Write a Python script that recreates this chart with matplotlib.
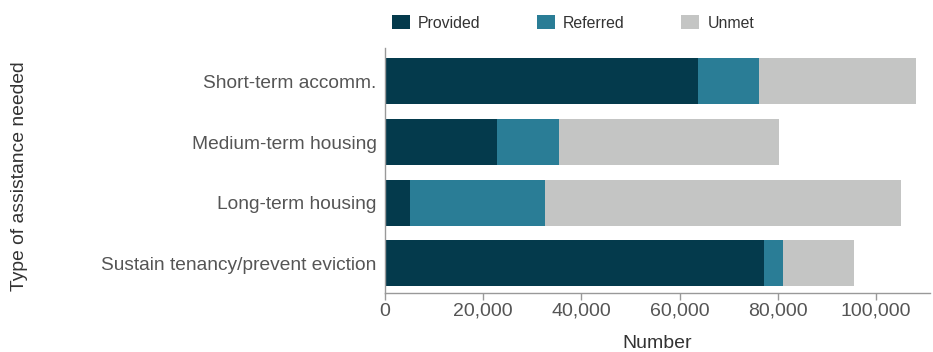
import matplotlib.pyplot as plt
from matplotlib.patches import Patch
from matplotlib.ticker import FuncFormatter

plt.rcParams['font.family'] = ['Liberation Sans', 'DejaVu Sans']

categories = ['Short-term accomm.', 'Medium-term housing', 'Long-term housing',
              'Sustain tenancy/prevent eviction']
provided = [63700, 22900, 5100, 77300]
referred = [12400, 12500, 27500, 3700]
unmet = [32000, 44800, 72600, 14500]

series = ['Provided', 'Referred', 'Unmet']
colours = ['#043a4c', '#2a7d96', '#c4c5c4']
text_col = '#555555'

fig = plt.figure(figsize=(9.33, 3.52), dpi=100)
ax = fig.add_axes([0.4127, 0.1676, 0.584, 0.696])

ypos = list(range(len(categories)))
left = [0] * len(categories)
for vals, col in zip([provided, referred, unmet], colours):
    ax.barh(ypos, vals, left=left, height=0.76, color=col)
    left = [a + b for a, b in zip(left, vals)]

ax.set_ylim(3.49, -0.55)
ax.set_xlim(0, 111000)
ax.set_yticks(ypos)
ax.set_yticklabels(categories, fontsize=13.8, color=text_col)
ax.set_xticks(range(0, 100001, 20000))
ax.xaxis.set_major_formatter(FuncFormatter(lambda v, p: f'{int(v):,}'))
ax.tick_params(axis='x', labelsize=14, labelcolor=text_col, color='#999999',
               length=5, width=1, pad=2)
ax.tick_params(axis='y', length=0, pad=6)

for s in ['top', 'right']:
    ax.spines[s].set_visible(False)
for s in ['left', 'bottom']:
    ax.spines[s].set_color('#999999')
    ax.spines[s].set_linewidth(1)

ax.set_xlabel('Number', fontsize=14, color='#333333', labelpad=11)
fig.text(0.021, 0.5, 'Type of assistance needed', rotation=90, fontsize=13.9,
         color='#333333', ha='center', va='center')

handles = [Patch(facecolor=c, edgecolor='none') for c in colours]
fig.legend(handles, series, loc='center left', bbox_to_anchor=(0.405, 0.935),
           ncol=3, frameon=False, fontsize=11.4, handlelength=1.15, handleheight=1.0,
           handletextpad=0.5, columnspacing=3.55, labelcolor='#333333')

fig.savefig('out.png', dpi=100)
